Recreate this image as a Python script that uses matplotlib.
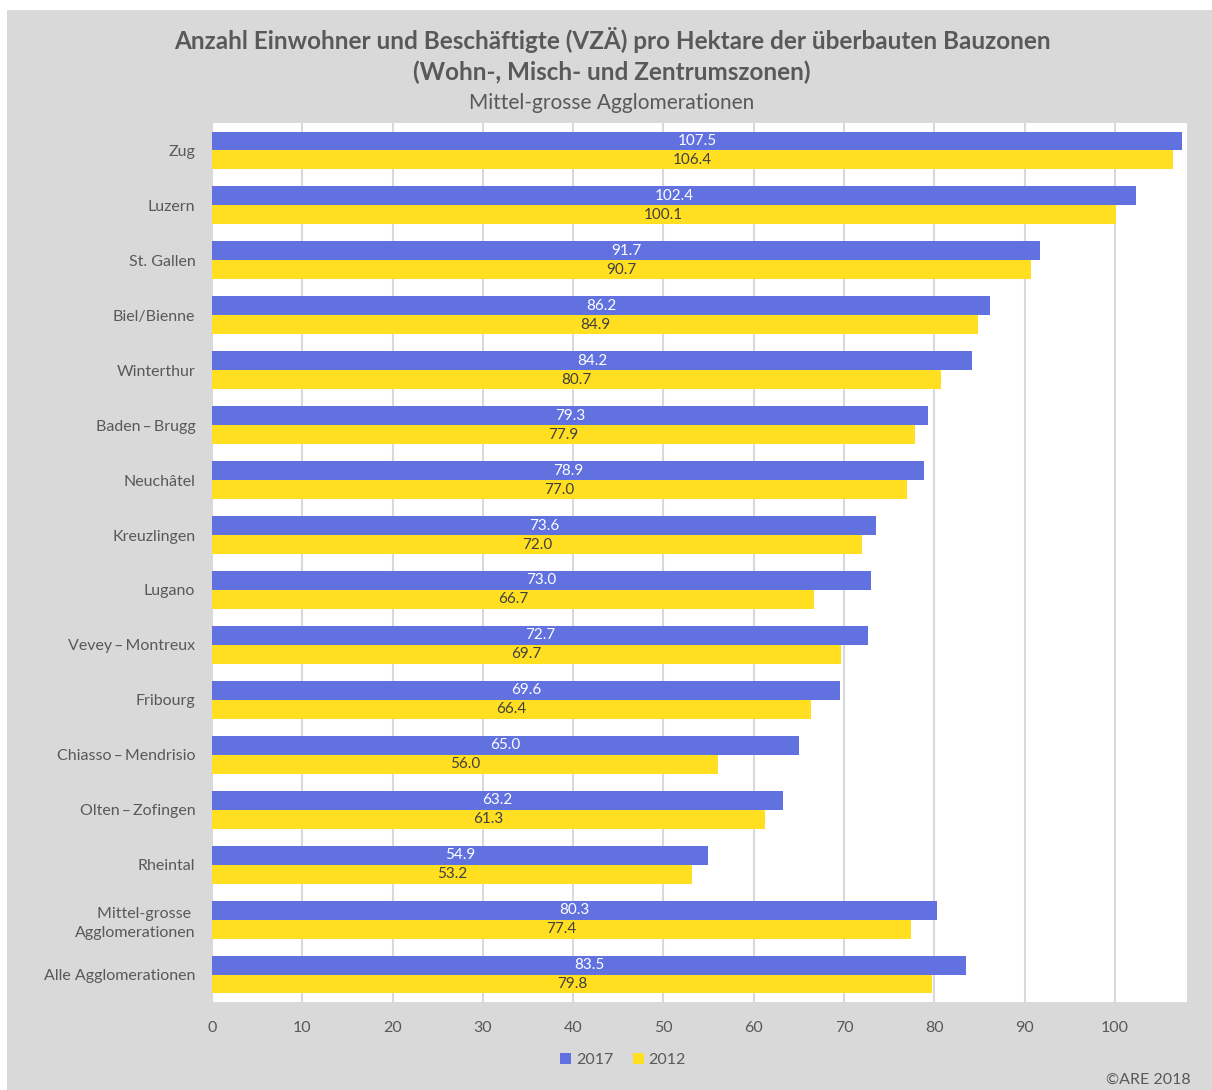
import numpy as np
import matplotlib.pyplot as plt
from matplotlib.patches import Rectangle

plt.rcParams['font.family'] = ['Lato', 'DejaVu Sans']

categories = ["Zug", "Luzern", "St. Gallen", "Biel/Bienne", "Winterthur",
              "Baden\u2009–\u2009Brugg", "Neuchâtel", "Kreuzlingen", "Lugano",
              "Vevey\u2009–\u2009Montreux", "Fribourg", "Chiasso\u2009–\u2009Mendrisio",
              "Olten\u2009–\u2009Zofingen", "Rheintal",
              "Mittel-grosse \nAgglomerationen", "Alle Agglomerationen"]
v2017 = [107.5, 102.4, 91.7, 86.2, 84.2, 79.3, 78.9, 73.6, 73.0, 72.7,
         69.6, 65.0, 63.2, 54.9, 80.3, 83.5]
v2012 = [106.4, 100.1, 90.7, 84.9, 80.7, 77.9, 77.0, 72.0, 66.7, 69.7,
         66.4, 56.0, 61.3, 53.2, 77.4, 79.8]
years = ["2017", "2012"]
xticks = np.arange(0, 101, 10)

BLUE = "#6172e0"
YELLOW = "#ffdf20"
GREY_BG = "#d9d9d9"
TEXT = "#595959"

W, H = 1212, 1090
fig = plt.figure(figsize=(W / 100, H / 100), dpi=100, facecolor="white")
# grey chart background, leaving a thin white margin top and left
fig.patches.append(Rectangle((7 / W, 0), 1 - 7 / W, 1 - 10 / H,
                             transform=fig.transFigure, facecolor=GREY_BG,
                             edgecolor="none", zorder=-10))

ax = fig.add_axes([212 / W, 1 - 1002 / H, (1187 - 212) / W, (1002 - 123) / H])
ax.set_facecolor("white")

n = len(categories)
y = np.arange(n)
h = 0.345
b1 = ax.barh(y - h / 2, v2017, height=h, color=BLUE, label=years[0], zorder=2)
b2 = ax.barh(y + h / 2, v2012, height=h, color=YELLOW, label=years[1], zorder=2)

for bars, vals, col in [(b1, v2017, "white"), (b2, v2012, "#404040")]:
    for bar, v in zip(bars, vals):
        ax.text(v / 2, bar.get_y() + bar.get_height() / 2, f"{v:.1f}",
                ha="center", va="center", fontsize=11, color=col, zorder=3)

ax.set_ylim(n - 0.5, -0.5)
ax.set_xlim(0, 108)
ax.set_yticks(y)
ax.set_yticklabels(categories, fontsize=11.5, color=TEXT, linespacing=1.45)
ax.set_xticks(xticks)
ax.set_xticklabels([str(t) for t in xticks], fontsize=11.5, color=TEXT)
ax.tick_params(length=0)
ax.tick_params(axis="y", pad=12)
ax.tick_params(axis="x", pad=14)
ax.grid(axis="x", color="#d9d9d9", linewidth=1.5, zorder=1)
ax.set_axisbelow(True)
for s in ax.spines.values():
    s.set_visible(False)

fig.text(0.505, 1 - 40 / H, "Anzahl Einwohner und Beschäftigte (VZÄ) pro Hektare der überbauten Bauzonen",
         ha="center", va="center", fontsize=17.5, fontweight="bold", color=TEXT)
fig.text(0.505, 1 - 72 / H, "(Wohn-, Misch- und Zentrumszonen)",
         ha="center", va="center", fontsize=17.5, fontweight="bold", color=TEXT)
fig.text(0.505, 1 - 103 / H, "Mittel-grosse Agglomerationen",
         ha="center", va="center", fontsize=15, color=TEXT)

leg = fig.legend(handles=[b1, b2], labels=years, loc="center",
                 bbox_to_anchor=(623 / W, 1 - 1060 / H), ncol=2, frameon=False,
                 fontsize=11.5, handlelength=0.7, handleheight=0.7,
                 handletextpad=0.3, columnspacing=1.2)
for t in leg.get_texts():
    t.set_color(TEXT)

fig.text(1191 / W, 1 - 1080 / H, "©ARE 2018", ha="right", va="center",
         fontsize=11.5, color=TEXT)

fig.savefig("out.png", dpi=100, facecolor=fig.get_facecolor())
